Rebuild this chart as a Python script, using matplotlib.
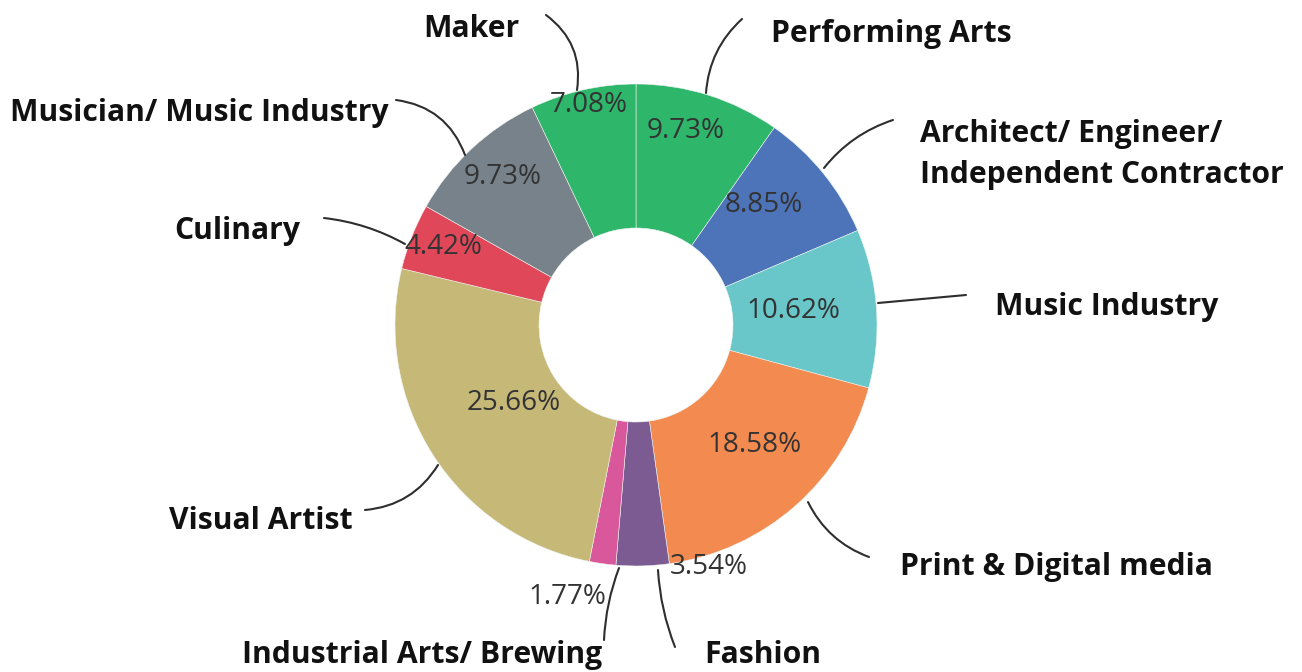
import matplotlib
matplotlib.use("Agg")
import matplotlib.pyplot as plt
from matplotlib import font_manager as fm

# ---------------- data ----------------
categories = ["Performing Arts", "Architect/ Engineer/\nIndependent Contractor", "Music Industry",
              "Print & Digital media", "Fashion", "Industrial Arts/ Brewing", "Visual Artist",
              "Culinary", "Musician/ Music Industry", "Maker"]
values = [9.73, 8.85, 10.62, 18.58, 3.54, 1.77, 25.66, 4.42, 9.73, 7.08]
colors = ["#2eb66b", "#4d74b8", "#69c7c9", "#f38a4f", "#7b5b92", "#d9589b",
          "#c6b877", "#e0485a", "#78828b", "#2eb66b"]

# ---------------- layout (pixel coordinates, y from top) ----------------
W, H = 1302, 672
CX, CY, R, R_IN = 636, 325, 241, 97
# category label: left x, baseline y of first line
label_pos = [(771, 42), (920, 142), (995, 315), (900, 575), (704, 663),
             (242, 663), (169, 529), (174, 239), (10, 121), (423, 37)]
line_gap = 41
# percentage label centres
pct_pos = [(686, 127), (764, 202), (793, 307), (755, 442), (709, 563),
           (567, 594), (514, 399), (443, 243), (503, 173), (589, 102)]
# leader lines: label end -> slice end, curvature
leaders = [((742, 19), (706, 93), 0.2), ((893, 120), (824, 168), 0.15),
           ((966, 295), (878, 303), 0.0), ((869, 557), (808, 502), -0.2),
           ((675, 647), (658, 570), -0.08), ((604, 640), (619, 568), -0.08),
           ((365, 510), (438, 465), 0.25), ((324, 218), (405, 244), -0.1),
           ((396, 100), (465, 155), -0.3), ((546, 15), (577, 90), -0.3)]


def P(x, y):
    return (x, H - y)


names = {f.name for f in fm.fontManager.ttflist}
label_family = [f for f in ["Open Sans", "Noto Sans", "Roboto", "DejaVu Sans"] if f in names][0]
pct_family = label_family

fig = plt.figure(figsize=(W / 100, H / 100), dpi=100)
ax = fig.add_axes([0, 0, 1, 1])
ax.pie(values, colors=colors, startangle=90, counterclock=False,
       center=P(CX, CY), radius=R,
       wedgeprops=dict(width=R - R_IN, edgecolor="#eef4f0", linewidth=0.4))
ax.set_xlim(0, W)
ax.set_ylim(0, H)
ax.set_aspect("equal")
ax.axis("off")

renderer = fig.canvas.get_renderer()


def fit_size(text, family, weight, target_px):
    t = ax.text(0, 0, text, fontsize=20, family=family, weight=weight)
    w = t.get_window_extent(renderer).width
    t.remove()
    return 20 * target_px / w


lsize = fit_size("Musician/ Music Industry", label_family, "bold", 378)
psize = fit_size("10.62%", pct_family, "normal", 94)

for (a, b, rad) in leaders:
    ax.annotate("", xy=P(*b), xytext=P(*a),
                arrowprops=dict(arrowstyle="-", color="#2e2e2e", lw=1.5,
                                connectionstyle=f"arc3,rad={rad}",
                                shrinkA=0, shrinkB=0))

for cat, (x, y) in zip(categories, label_pos):
    for i, line in enumerate(cat.split("\n")):
        ax.text(*P(x, y + i * line_gap), line, family=label_family, weight="bold",
                fontsize=lsize, color="#111111", ha="left", va="baseline")

for v, (x, y) in zip(values, pct_pos):
    ax.text(*P(x, y), f"{v:.2f}%", family=pct_family, fontsize=psize,
            color="#333333", ha="center", va="center_baseline")

fig.savefig("out.png", dpi=100)
